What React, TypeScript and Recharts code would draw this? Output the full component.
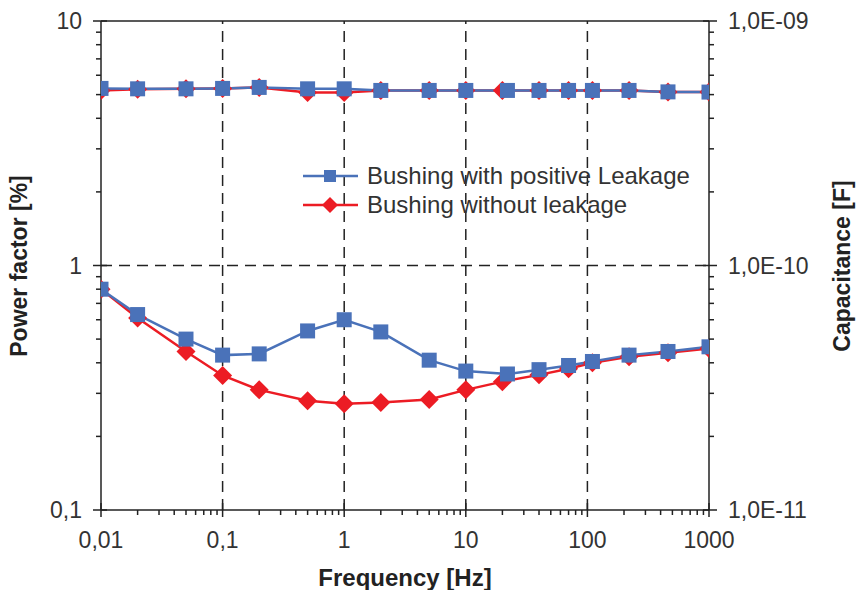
import { LineChart, Line, XAxis, YAxis, ReferenceLine, Legend } from 'recharts';

const BLUE = '#4a72b9';
const RED = '#ec1c24';

// frequencies (Hz)
const freqBlue = [0.01, 0.02, 0.05, 0.1, 0.2, 0.5, 1, 2, 5, 10, 22, 40, 70, 110, 220, 460, 1000];
const freqRed = [0.01, 0.02, 0.05, 0.1, 0.2, 0.5, 1, 2, 5, 10, 20, 40, 70, 110, 220, 460, 1000];

// power factor [%]
const pfBlue = [0.8, 0.63, 0.5, 0.43, 0.435, 0.54, 0.6, 0.535, 0.41, 0.37, 0.36, 0.375, 0.39, 0.405, 0.43, 0.445, 0.465];
const pfRed = [0.8, 0.61, 0.445, 0.355, 0.31, 0.28, 0.272, 0.275, 0.283, 0.31, 0.335, 0.357, 0.378, 0.4, 0.423, 0.44, 0.458];

// capacitance [F]
const capBlue = [5.3e-10, 5.28e-10, 5.28e-10, 5.3e-10, 5.35e-10, 5.28e-10, 5.28e-10, 5.2e-10, 5.2e-10, 5.2e-10, 5.2e-10, 5.2e-10, 5.2e-10, 5.2e-10, 5.2e-10, 5.13e-10, 5.12e-10];
const capRed = [5.2e-10, 5.26e-10, 5.28e-10, 5.3e-10, 5.35e-10, 5.1e-10, 5.1e-10, 5.2e-10, 5.2e-10, 5.2e-10, 5.2e-10, 5.2e-10, 5.2e-10, 5.2e-10, 5.2e-10, 5.13e-10, 5.12e-10];

const xMajor = [0.01, 0.1, 1, 10, 100, 1000];
const xLabels = ['0,01', '0,1', '1', '10', '100', '1000'];
const pfMajor = [0.1, 1, 10];
const pfLabels = ['0,1', '1', '10'];
const capMajor = [1e-11, 1e-10, 1e-9];
const capLabels = ['1,0E-11', '1,0E-10', '1,0E-09'];
const gridX = [0.1, 1, 10, 100];
const gridPf = [1];

const seriesNames = ['Bushing with positive Leakage', 'Bushing without leakage'];

const withMinors = (major: number[]) => {
  const out: number[] = [];
  major.forEach((d, i) => {
    out.push(d);
    if (i < major.length - 1) for (let k = 2; k <= 9; k++) out.push(+(d * k).toPrecision(3));
  });
  return out;
};

const rows = (xs: number[], ys: number[]) => xs.map((f, i) => ({ f, v: ys[i] }));

const FONT = "'Liberation Sans', Arial, sans-serif";
const TICK_COLOR = '#333';

const labelOf = (v: number, major: number[], labels: string[]) => {
  const i = major.findIndex(m => Math.abs(m - v) / m < 1e-6);
  return i >= 0 ? labels[i] : null;
};

const XTick = (props: any) => {
  const { x, y, payload } = props;
  const lab = labelOf(payload.value, xMajor, xLabels);
  if (lab == null) return <line x1={x} x2={x} y1={y} y2={y + 5} stroke="#222" strokeWidth={1.5} />;
  return (
    <g>
      <line x1={x} x2={x} y1={y - 7} y2={y + 7} stroke="#222" strokeWidth={1.5} />
      <text x={x} y={y + 38} textAnchor="middle" fontSize={23} fill={TICK_COLOR} fontFamily={FONT}>{lab}</text>
    </g>
  );
};

const LeftTick = (props: any) => {
  const { x, y, payload } = props;
  const lab = labelOf(payload.value, pfMajor, pfLabels);
  if (lab == null) return <line x1={x - 5} x2={x} y1={y} y2={y} stroke="#222" strokeWidth={1.5} />;
  return (
    <g>
      <line x1={x - 8} x2={x + 6} y1={y} y2={y} stroke="#222" strokeWidth={1.5} />
      <text x={x - 19} y={y + 8} textAnchor="end" fontSize={23} fill={TICK_COLOR} fontFamily={FONT}>{lab}</text>
    </g>
  );
};

const RightTick = (props: any) => {
  const { x, y, payload } = props;
  const lab = labelOf(payload.value, capMajor, capLabels);
  if (lab == null) return <line x1={x} x2={x + 5} y1={y} y2={y} stroke="#222" strokeWidth={1.5} />;
  return (
    <g>
      <line x1={x - 6} x2={x + 8} y1={y} y2={y} stroke="#222" strokeWidth={1.5} />
      <text x={x + 19} y={y + 8} textAnchor="start" fontSize={23} fill={TICK_COLOR} fontFamily={FONT}>{lab}</text>
    </g>
  );
};

const Square = (props: any) => {
  const { cx, cy, index } = props;
  if (cx == null || cy == null) return <g key={index} />;
  return <rect key={index} x={cx - 7.5} y={cy - 7.5} width={15} height={15} fill={BLUE} />;
};

const Diamond = (props: any) => {
  const { cx, cy, index } = props;
  if (cx == null || cy == null) return <g key={index} />;
  const r = 9.5;
  return <polygon key={index} points={`${cx},${cy - r} ${cx + r},${cy} ${cx},${cy + r} ${cx - r},${cy}`} fill={RED} />;
};

const LegendBox = () => (
  <div style={{ fontFamily: FONT, fontSize: 24, color: TICK_COLOR }}>
    {seriesNames.map((name, i) => (
      <div key={name} style={{ display: 'flex', alignItems: 'center', height: 29 }}>
        <svg width={55} height={20} style={{ marginRight: 9 }}>
          <line x1={0} x2={55} y1={10} y2={10} stroke={i === 0 ? BLUE : RED} strokeWidth={2.5} />
          {i === 0 ? (
            <rect x={21} y={4} width={12} height={12} fill={BLUE} />
          ) : (
            <polygon points="27,2 35,10 27,18 19,10" fill={RED} />
          )}
        </svg>
        <span style={{ lineHeight: '29px', whiteSpace: 'nowrap' }}>{name}</span>
      </div>
    ))}
  </div>
);

export default function App() {
  return (
    <div style={{ position: 'absolute', left: 0, top: 0, width: 858, height: 590, background: '#fff' }}>
      <LineChart width={858} height={590} margin={{ top: 21, right: 29, bottom: 0, left: 21 }}>
        <XAxis
          xAxisId="f"
          dataKey="f"
          type="number"
          scale="log"
          domain={[0.01, 1000]}
          ticks={withMinors(xMajor)}
          interval={0}
          allowDataOverflow
          height={80}
          tickSize={0}
          tickMargin={0}
          tickLine={false}
          axisLine={{ stroke: '#222', strokeWidth: 1.5 }}
          tick={<XTick />}
          label={{
            content: () => (
              <text x={405} y={586} textAnchor="middle" fontSize={24} fontWeight="bold" fill="#222" fontFamily={FONT}>
                Frequency [Hz]
              </text>
            ),
          }}
        />
        <YAxis
          yAxisId="pf"
          orientation="left"
          type="number"
          scale="log"
          domain={[0.1, 10]}
          ticks={withMinors(pfMajor)}
          interval={0}
          allowDataOverflow
          width={80}
          tickSize={0}
          tickMargin={0}
          tickLine={false}
          axisLine={{ stroke: '#222', strokeWidth: 1.5 }}
          tick={<LeftTick />}
          label={{
            content: () => (
              <text x={27} y={266} transform="rotate(-90 27 266)" textAnchor="middle" fontSize={23} fontWeight="bold" fill="#222" fontFamily={FONT}>
                Power factor [%]
              </text>
            ),
          }}
        />
        <YAxis
          yAxisId="cap"
          orientation="right"
          type="number"
          scale="log"
          domain={[1e-11, 1e-9]}
          ticks={withMinors(capMajor)}
          interval={0}
          allowDataOverflow
          width={120}
          tickSize={0}
          tickMargin={0}
          tickLine={false}
          axisLine={{ stroke: '#222', strokeWidth: 1.5 }}
          tick={<RightTick />}
          label={{
            content: () => (
              <text x={850} y={266} transform="rotate(-90 850 266)" textAnchor="middle" fontSize={23} fontWeight="bold" fill="#222" fontFamily={FONT}>
                Capacitance [F]
              </text>
            ),
          }}
        />

        {gridX.map(g => (
          <ReferenceLine key={`gx-${g}`} x={g} xAxisId="f" yAxisId="pf" stroke="#222" strokeWidth={1.5} strokeDasharray="11 7" />
        ))}
        {gridPf.map(g => (
          <ReferenceLine key={`gy-${g}`} y={g} xAxisId="f" yAxisId="pf" stroke="#222" strokeWidth={1.5} strokeDasharray="11 7" />
        ))}
        <ReferenceLine y={10} xAxisId="f" yAxisId="pf" stroke="#222" strokeWidth={1.5} />

        <Line
          data={rows(freqRed, pfRed)}
          xAxisId="f"
          yAxisId="pf"
          dataKey="v"
          stroke={RED}
          strokeWidth={2.5}
          dot={<Diamond />}
          isAnimationActive={false}
          name={seriesNames[1]}
        />
        <Line
          data={rows(freqRed, capRed)}
          xAxisId="f"
          yAxisId="cap"
          dataKey="v"
          stroke={RED}
          strokeWidth={2.5}
          dot={<Diamond />}
          isAnimationActive={false}
          legendType="none"
        />
        <Line
          data={rows(freqBlue, pfBlue)}
          xAxisId="f"
          yAxisId="pf"
          dataKey="v"
          stroke={BLUE}
          strokeWidth={2.5}
          dot={<Square />}
          isAnimationActive={false}
          name={seriesNames[0]}
        />
        <Line
          data={rows(freqBlue, capBlue)}
          xAxisId="f"
          yAxisId="cap"
          dataKey="v"
          stroke={BLUE}
          strokeWidth={2.5}
          dot={<Square />}
          isAnimationActive={false}
          legendType="none"
        />
        <Legend
          layout="vertical"
          align="center"
          verticalAlign="middle"
          content={<LegendBox />}
          wrapperStyle={{ left: 303, top: 161, width: 440 }}
        />
      </LineChart>
    </div>
  );
}
